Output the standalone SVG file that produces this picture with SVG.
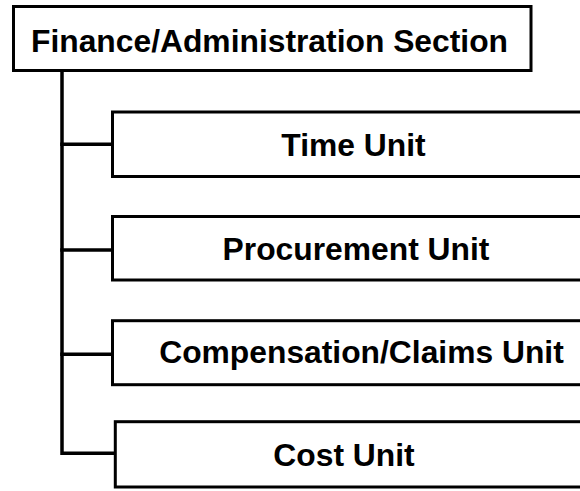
<svg xmlns="http://www.w3.org/2000/svg" width="580" height="491" viewBox="0 0 580 491">
<style>
.box{fill:#fff;stroke:#000;stroke-width:3}
.lbl{font-family:"Liberation Sans",Arial,sans-serif;font-weight:bold;font-size:31.8px;fill:#000;text-anchor:middle}
.conn{fill:none;stroke:#000;stroke-width:3.5;stroke-linejoin:miter;stroke-linecap:square}
</style>
<rect width="580" height="491" fill="#fff"/>
<g id="connectors">
<path class="conn" d="M62 71 V453.3 H114"/>
<path class="conn" d="M62 144.3 H112"/>
<path class="conn" d="M62 250 H112"/>
<path class="conn" d="M62 354.3 H112"/>
</g>
<g id="finance">
<rect class="box" x="13.5" y="6.5" width="517.5" height="64"/>
<text class="lbl" x="269.5" y="52">Finance/Administration Section</text>
</g>
<g id="time">
<rect class="box" x="112.5" y="112" width="520" height="64.5"/>
<text class="lbl" x="353.5" y="156">Time Unit</text>
</g>
<g id="procurement">
<rect class="box" x="112.5" y="216.5" width="520" height="63.5"/>
<text class="lbl" x="356" y="260">Procurement Unit</text>
</g>
<g id="compensation">
<rect class="box" x="112.5" y="320.7" width="520" height="64"/>
<text class="lbl" x="361.5" y="363">Compensation/Claims Unit</text>
</g>
<g id="cost">
<rect class="box" x="115.3" y="421.7" width="520" height="65.3"/>
<text class="lbl" x="344" y="465.7">Cost Unit</text>
</g>
</svg>
